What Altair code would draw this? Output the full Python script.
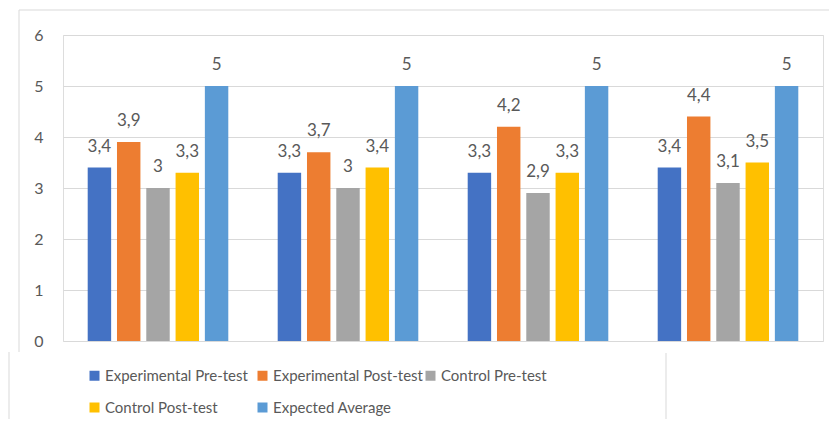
import altair as alt
import pandas as pd

groups = ["1", "2", "3", "4"]
series = ["Experimental Pre-test", "Experimental Post-test", "Control Pre-test",
          "Control Post-test", "Expected Average"]
exp_pre = [3.4, 3.3, 3.3, 3.4]
exp_post = [3.9, 3.7, 4.2, 4.4]
ctrl_pre = [3.0, 3.0, 2.9, 3.1]
ctrl_post = [3.3, 3.4, 3.3, 3.5]
expected = [5, 5, 5, 5]
colors = ["#4472C4", "#ED7D31", "#A5A5A5", "#FFC000", "#5B9BD5"]
y_ticks = [0, 1, 2, 3, 4, 5, 6]

rows = []
for s, vals in zip(series, [exp_pre, exp_post, ctrl_pre, ctrl_post, expected]):
    for g, v in zip(groups, vals):
        rows.append({"group": g, "series": s, "value": v,
                     "label": f"{v:g}".replace(".", ",")})
df = pd.DataFrame(rows)

FONT = "Lato"
TXT = "#595959"
GRID = "#D9D9D9"

x_enc = alt.X("group:N", sort=groups, axis=None,
              scale=alt.Scale(paddingInner=0.26, paddingOuter=0.13))
xo_enc = alt.XOffset("series:N", sort=series,
                     scale=alt.Scale(paddingInner=0.2, paddingOuter=0))
y_enc = alt.Y("value:Q", scale=alt.Scale(domain=[0, 6], nice=False),
              axis=alt.Axis(values=y_ticks, title=None, grid=True, gridColor=GRID,
                            gridWidth=1, domain=False, ticks=False, labelPadding=20,
                            labelFont=FONT, labelFontSize=16, labelColor=TXT,
                            format="d"))

bars = alt.Chart(df).mark_bar().encode(
    x=x_enc, xOffset=xo_enc, y=y_enc,
    color=alt.Color("series:N", sort=series,
                    scale=alt.Scale(domain=series, range=colors),
                    legend=alt.Legend(orient="none", legendX=24, legendY=333,
                                      columns=3, direction="horizontal", title=None,
                                      symbolType="square", symbolSize=100,
                                      symbolStrokeWidth=0, labelFont=FONT,
                                      labelFontSize=15, labelColor=TXT,
                                      labelOffset=3, gridAlign="all",
                                      columnPadding=0, rowPadding=16, padding=0)),
)

labels = alt.Chart(df).mark_text(baseline="alphabetic", dy=-16, fontSize=17,
                                 font=FONT, color=TXT).encode(
    x=x_enc, xOffset=xo_enc, y=alt.Y("value:Q"), text="label:N")

frame_df = pd.DataFrame({"k": [0]})
def rule(**kw):
    return alt.Chart(frame_df).mark_rule(color=GRID, strokeWidth=1).encode(**kw)

top_line = rule(x=alt.value(-44), x2=alt.value(790), y=alt.value(-25))
left_line = rule(x=alt.value(-44), y=alt.value(-25), y2=alt.value(317))
leg_left = rule(x=alt.value(-54), y=alt.value(317), y2=alt.value(400))
leg_right = rule(x=alt.value(603), y=alt.value(318), y2=alt.value(400))

chart = alt.layer(bars, labels, top_line, left_line, leg_left, leg_right).properties(
    width=760, height=306,
    autosize=alt.AutoSizeParams(type="none"),
    padding={"left": 55, "top": 27, "right": 6, "bottom": 78},
).configure_view(stroke=None).configure(background="white")

chart.save("out.html", embed_options={"renderer": "svg", "actions": False})
